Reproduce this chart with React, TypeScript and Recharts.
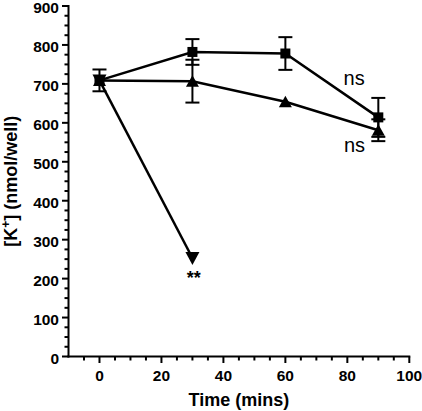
import React from 'react';
import { LineChart, Line, XAxis, YAxis, ErrorBar, ReferenceDot } from 'recharts';

// time points (mins)
const times = [0, 30, 60, 90];

// filled squares
const squareMean = [709, 782, 778, 614];
const squareErr = [28, 33, 42, 50];

// filled triangles (up)
const triUpMean = [709, 707, 654, 581];
const triUpErr = [null, 55, null, 28];

// filled triangles (down), stops after 30 min
const triDownMean = [709, 253, null, null];

const xMajor = [0, 20, 40, 60, 80, 100];
const yMajor = [0, 100, 200, 300, 400, 500, 600, 700, 800, 900];

// minor ticks every 5 on x, every 25 on y
const xTicks: number[] = [];
for (let t = -5; t <= 100; t += 5) xTicks.push(t);
const yTicks: number[] = [];
for (let t = 0; t <= 900; t += 25) yTicks.push(t);

// significance marks (data coords of text baseline)
const notes = [
    { x: 82.2, y: 697, text: 'ns', bold: false, size: 20 },
    { x: 82.3, y: 525, text: 'ns', bold: false, size: 20 },
    { x: 30.4, y: 185, text: '**', bold: true, size: 18 },
];

const data = times.map((t, i) => ({
    time: t,
    square: squareMean[i],
    squareErr: squareErr[i],
    triUp: triUpMean[i],
    triUpErr: triUpErr[i],
    triDown: triDownMean[i],
}));

const FONT = '"Liberation Sans", Arial, sans-serif';

const XTick = (props: any) => {
    const { x, y, payload } = props;
    const major = xMajor.includes(payload.value);
    return (
        <g>
            <line x1={x} y1={y} x2={x} y2={y + (major ? 6.5 : 4)} stroke="#000" strokeWidth={2} />
            {major && (
                <text x={x} y={y + 24.5} textAnchor="middle" fontFamily={FONT} fontWeight="bold" fontSize={15.5} fill="#000">
                    {payload.value}
                </text>
            )}
        </g>
    );
};

const YTick = (props: any) => {
    const { x, y, payload } = props;
    const major = yMajor.includes(payload.value);
    return (
        <g>
            <line x1={x} y1={y} x2={x - (major ? 6.5 : 4)} y2={y} stroke="#000" strokeWidth={2} />
            {major && (
                <text x={x - 9.5} y={y + 7} textAnchor="end" fontFamily={FONT} fontWeight="bold" fontSize={15.5} fill="#000">
                    {payload.value}
                </text>
            )}
        </g>
    );
};

const XTitle = (props: any) => {
    const { viewBox } = props;
    return (
        <text x={viewBox.x + viewBox.width / 2} y={406} textAnchor="middle" fontFamily={FONT} fontWeight="bold" fontSize={18} fill="#000">
            Time (mins)
        </text>
    );
};

const YTitle = (props: any) => {
    const { viewBox } = props;
    const cy = viewBox.y + viewBox.height / 2;
    return (
        <text transform={`translate(17,${cy}) rotate(-90)`} textAnchor="middle" fontFamily={FONT} fontWeight="bold" fontSize={18} fill="#000">
            [K<tspan dy={-7} fontSize={12}>+</tspan><tspan dy={7}>] (nmol/well)</tspan>
        </text>
    );
};

const squareDot = (p: any) => {
    if (p.cy == null || p.value == null) return <g key={p.index} />;
    return <rect key={p.index} x={p.cx - 5} y={p.cy - 5} width={10} height={10} fill="#000" />;
};

const triUpDot = (p: any) => {
    if (p.cy == null || p.value == null) return <g key={p.index} />;
    const { cx, cy } = p;
    return <path key={p.index} d={`M${cx},${cy - 6}L${cx + 6.5},${cy + 5.5}L${cx - 6.5},${cy + 5.5}Z`} fill="#000" />;
};

const triDownDot = (p: any) => {
    if (p.cy == null || p.value == null) return <g key={p.index} />;
    const { cx, cy } = p;
    return <path key={p.index} d={`M${cx - 7},${cy - 6}L${cx + 7},${cy - 6}L${cx},${cy + 7}Z`} fill="#000" />;
};

const noteShape = (n: typeof notes[number]) => (p: any) => (
    <text x={p.cx} y={p.cy} textAnchor="middle" fontFamily={FONT} fontWeight={n.bold ? 'bold' : 'normal'} fontSize={n.size} fill="#000">
        {n.text}
    </text>
);

export default function App() {
    return (
        <div style={{ position: 'absolute', left: 0, top: 0, background: '#fff' }}>
            <LineChart width={422} height={411} data={data} margin={{ top: 6, right: 12.7, bottom: 0, left: 0 }}>
                <XAxis
                    type="number"
                    dataKey="time"
                    domain={[-10, 100]}
                    ticks={xTicks}
                    interval={0}
                    height={54.5}
                    tickSize={0}
                    tickMargin={0}
                    tickLine={false}
                    tick={<XTick />}
                    axisLine={{ stroke: '#000', strokeWidth: 2, strokeLinecap: 'square' }}
                    label={<XTitle />}
                />
                <YAxis
                    type="number"
                    domain={[0, 900]}
                    ticks={yTicks}
                    interval={0}
                    width={68.5}
                    tickSize={0}
                    tickMargin={0}
                    tickLine={false}
                    tick={<YTick />}
                    axisLine={{ stroke: '#000', strokeWidth: 2, strokeLinecap: 'square' }}
                    label={<YTitle />}
                />
                <Line dataKey="triDown" stroke="#000" strokeWidth={2.5} dot={triDownDot} isAnimationActive={false} />
                <Line dataKey="triUp" stroke="#000" strokeWidth={2.5} dot={triUpDot} isAnimationActive={false}>
                    <ErrorBar dataKey="triUpErr" direction="y" width={7} stroke="#000" strokeWidth={2} isAnimationActive={false} />
                </Line>
                <Line dataKey="square" stroke="#000" strokeWidth={2.5} dot={squareDot} isAnimationActive={false}>
                    <ErrorBar dataKey="squareErr" direction="y" width={7} stroke="#000" strokeWidth={2} isAnimationActive={false} />
                </Line>
                {notes.map((n, i) => (
                    <ReferenceDot key={i} x={n.x} y={n.y} r={0} shape={noteShape(n)} ifOverflow="visible" />
                ))}
            </LineChart>
        </div>
    );
}
